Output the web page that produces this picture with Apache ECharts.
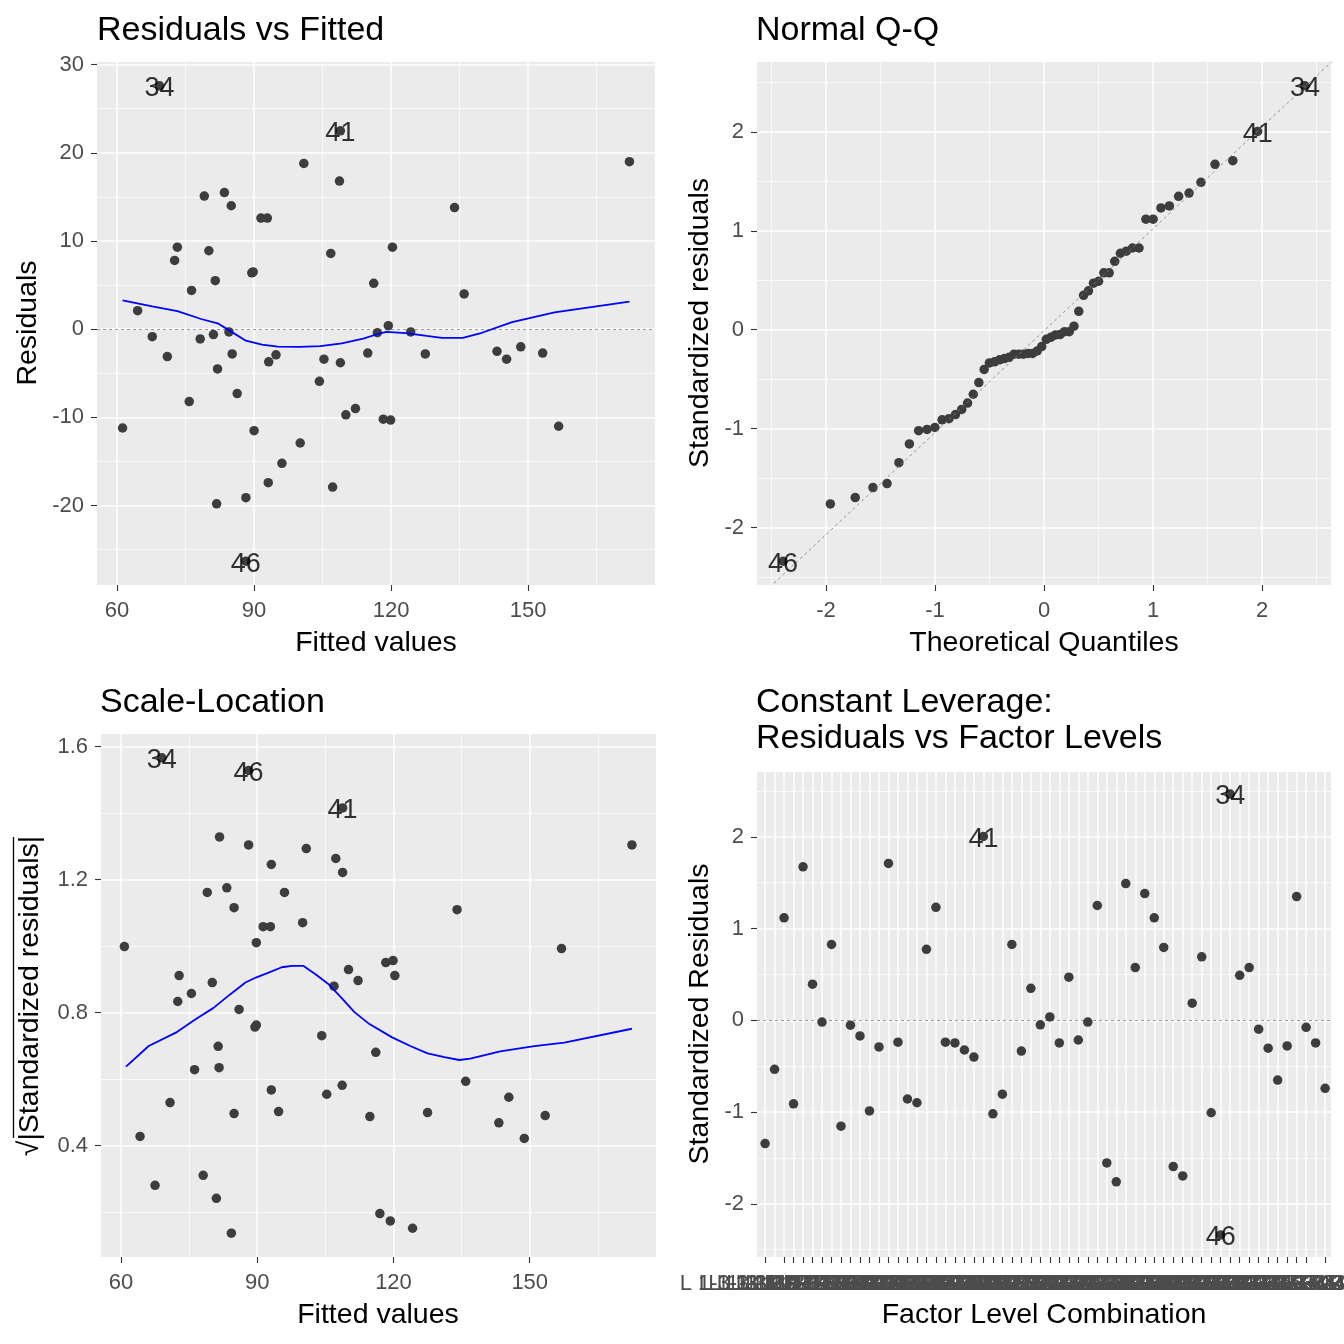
<!DOCTYPE html>
<html><head><meta charset="utf-8">
<script src="https://cdn.jsdelivr.net/npm/echarts@6/dist/echarts.min.js"></script>
<style>html,body{margin:0;padding:0;background:#fff}#c{width:1344px;height:1344px}</style>
</head><body><div id="c"></div>
<script>
// ---------- Panel 1: Residuals vs Fitted ----------
const fittedP1 = [61.2,64.5,67.7,69.3,71.0,72.6,73.2,75.8,76.3,78.2,79.1,80.1,81.1,81.5,81.8,82.0,83.5,84.5,85.0,85.2,86.3,88.2,88.2,89.5,89.8,90.0,91.5,92.9,93.1,93.2,94.8,96.1,100.1,100.9,104.3,105.3,106.8,107.2,108.7,108.9,108.9,110.1,112.2,114.9,116.2,117.0,118.3,119.4,119.9,120.3,124.3,127.5,133.9,136.0,143.2,145.3,148.4,153.2,156.7,172.2];
const residP1 = [-11.2,2.1,-0.85,27.6,-3.1,7.8,9.3,-8.2,4.4,-1.1,15.1,8.9,-0.6,5.5,-19.8,-4.5,15.5,-0.3,14.0,-2.8,-7.3,-19.1,-26.3,6.4,6.5,-11.5,12.6,12.6,-17.4,-3.7,-2.9,-15.2,-12.9,18.8,-5.9,-3.4,8.6,-17.9,16.8,-3.8,22.5,-9.7,-9.0,-2.7,5.2,-0.4,-10.2,0.4,-10.3,9.3,-0.3,-2.8,13.8,4.0,-2.5,-3.4,-2.0,-2.7,-11.0,19.0];
const smoothP1X = [61.2,67.7,73.2,78.4,82.2,85.0,88.2,91.7,95.2,99.9,104.5,109.2,113.9,117.1,119.0,123.2,127.8,131.1,135.7,139.9,146.5,155.8,172.2];
const smoothP1Y = [3.26,2.6,2.06,1.16,0.63,-0.27,-1.3,-1.74,-1.97,-2.0,-1.92,-1.6,-1.07,-0.54,-0.31,-0.45,-0.76,-0.98,-0.98,-0.4,0.8,1.92,3.13];
const labelsP1 = [[3,'34'],[22,'46'],[40,'41']];

// ---------- Panel 2: Normal Q-Q ----------
const qqTheoretical = [-2.394,-1.960,-1.732,-1.569,-1.440,-1.331,-1.235,-1.150,-1.073,-1.001,-0.935,-0.872,-0.812,-0.755,-0.701,-0.649,-0.598,-0.549,-0.501,-0.454,-0.408,-0.363,-0.319,-0.275,-0.232,-0.189,-0.147,-0.105,-0.063,-0.021,0.021,0.063,0.105,0.147,0.189,0.232,0.275,0.319,0.363,0.408,0.454,0.501,0.549,0.598,0.649,0.701,0.755,0.812,0.872,0.935,1.001,1.073,1.150,1.235,1.331,1.440,1.569,1.732,1.960,2.394];
const qqSample = [-2.340,-1.761,-1.696,-1.595,-1.555,-1.344,-1.154,-1.020,-1.008,-0.988,-0.911,-0.899,-0.858,-0.806,-0.741,-0.652,-0.534,-0.401,-0.336,-0.324,-0.304,-0.291,-0.279,-0.247,-0.247,-0.247,-0.239,-0.239,-0.215,-0.170,-0.097,-0.077,-0.053,-0.049,-0.020,-0.020,0.036,0.186,0.348,0.393,0.470,0.490,0.575,0.575,0.692,0.773,0.794,0.826,0.826,1.117,1.117,1.231,1.251,1.348,1.381,1.490,1.672,1.709,2.004,2.466];
const qqLineX = [-2.8, 2.8];
const qqLineY = [-2.894, 2.874];
const labelsP2 = [[0,'46'],[58,'41'],[59,'34']];

// ---------- Panel 3: Scale-Location ----------
const fittedP3 = [60.75,64.2,67.5,69.0,70.8,72.5,72.8,75.5,76.2,78.1,79.0,80.1,81.0,81.4,81.6,81.7,83.3,84.3,84.9,84.9,86.0,88.1,88.1,89.5,89.8,89.8,91.3,92.9,93.1,93.1,94.7,96.0,100.0,100.8,104.2,105.3,106.9,107.3,108.7,108.8,108.8,110.1,112.2,114.8,116.1,117.0,118.3,119.3,119.9,120.3,124.2,127.5,134.0,135.9,143.2,145.4,148.8,153.4,157.0,172.5];
const sqrtStdP3 = [0.998,0.427,0.280,1.566,0.529,0.833,0.911,0.857,0.628,0.310,1.161,0.890,0.241,0.698,0.634,1.328,1.175,0.136,1.115,0.496,0.809,1.304,1.528,0.756,0.762,1.010,1.058,1.058,0.567,1.245,0.502,1.161,1.070,1.293,0.730,0.554,0.879,1.263,0.581,1.221,1.415,0.929,0.896,0.487,0.680,0.195,0.950,0.173,0.956,0.911,0.151,0.499,1.109,0.593,0.468,0.545,0.421,0.490,0.992,1.304];
const smoothP3X = [61.1,66.1,72.3,76.5,80.3,84.1,87.4,89.7,92.5,95.4,97.7,100.2,102.9,105.8,108.6,111.4,114.7,119.7,123.7,127.5,131.2,134.5,136.9,143.5,151.0,157.6,172.5];
const smoothP3Y = [0.637,0.699,0.741,0.780,0.813,0.855,0.890,0.905,0.920,0.936,0.940,0.940,0.914,0.884,0.843,0.801,0.765,0.725,0.699,0.677,0.666,0.657,0.661,0.683,0.699,0.709,0.751];
const labelsP3 = [[3,'34'],[22,'46'],[40,'41']];

// ---------- Panel 4: Residuals vs Factor Levels ----------
const factorStdRes = [-1.344,-0.534,1.117,-0.911,1.672,0.393,-0.020,0.826,-1.154,-0.053,
  -0.170,-0.988,-0.291,1.709,-0.239,-0.858,-0.899,0.773,1.231,-0.239,
  -0.247,-0.324,-0.401,2.004,-1.020,-0.806,0.826,-0.336,0.348,-0.049,
  0.036,-0.247,0.470,-0.215,-0.020,1.251,-1.555,-1.761,1.490,0.575,
  1.381,1.117,0.794,-1.595,-1.696,0.186,0.692,-1.008,-2.340,2.466,
  0.490,0.575,-0.097,-0.304,-0.652,-0.279,1.348,-0.077,-0.247,-0.741];
const labelsP4 = [[23,'41'],[48,'46'],[49,'34']];
const levelA = ['1','2','3'];
const levelB = ['1','2','3','4','5'];
const levelC = ['1','2','3','4'];
const factorLabels = [];
levelA.forEach(a => levelB.forEach(b => levelC.forEach(c => {
  factorLabels.push('L ' + a + '-3-1' + b + ':R ' + c + '-0' + b + ':' + a);
})));

// ---------- tick values ----------
const ticksFitX = [60, 90, 120, 150], minorFitX = [75, 105, 135, 165];
const ticksResY = [-20, -10, 0, 10, 20, 30], minorResY = [-25, -15, -5, 5, 15, 25];
const ticksStd = [-2, -1, 0, 1, 2], minorStd = [-2.5, -1.5, -0.5, 0.5, 1.5, 2.5];
const ticksSqrtY = [0.4, 0.8, 1.2, 1.6], minorSqrtY = [0.2, 0.6, 1.0, 1.4];
const ticksFactorX = factorLabels.map((_, i) => i + 1);

// ---------- build ----------
const FONT = '"Liberation Sans", Arial, Helvetica, sans-serif';
const PT = '#3d3d3d';
const zip = (a, b) => a.map((v, i) => [v, b[i]]);

function gridHost(gi, majX, minX, majY, minY, x0, y0, extra) {
  const d = [];
  minX.forEach(v => d.push({xAxis: v, lineStyle: {width: 0.75, color: '#fff', type: 'solid'}}));
  minY.forEach(v => d.push({yAxis: v, lineStyle: {width: 0.75, color: '#fff', type: 'solid'}}));
  majX.forEach(v => d.push({xAxis: v, lineStyle: {width: 1.5, color: '#fff', type: 'solid'}}));
  majY.forEach(v => d.push({yAxis: v, lineStyle: {width: 1.5, color: '#fff', type: 'solid'}}));
  const s = [{
    type: 'line', xAxisIndex: gi, yAxisIndex: gi, data: [[x0, y0]], showSymbol: false, symbol: 'none',
    lineStyle: {opacity: 0}, silent: true, z: 1,
    markLine: {silent: true, symbol: 'none', z: 1, animation: false, label: {show: false},
      emphasis: {disabled: true}, data: d}
  }];
  if (extra) {
    s.push({
      type: 'line', xAxisIndex: gi, yAxisIndex: gi, data: [[x0, y0]], showSymbol: false, symbol: 'none',
      lineStyle: {opacity: 0}, silent: true, z: 2,
      markLine: {silent: true, symbol: 'none', z: 2, animation: false, label: {show: false},
        emphasis: {disabled: true},
        data: [{yAxis: 0, lineStyle: {color: '#7F7F7F', width: 0.8, type: [3, 3]}}]}
    });
  }
  return s;
}
function points(gi, data) {
  return {type: 'scatter', xAxisIndex: gi, yAxisIndex: gi, data, symbol: 'circle', symbolSize: 9.5,
    itemStyle: {color: PT, opacity: 1}, silent: true, z: 3};
}
function smooth(gi, data, color, dash) {
  return {type: 'line', xAxisIndex: gi, yAxisIndex: gi, data, showSymbol: false, symbol: 'none',
    clip: true, lineStyle: {color, width: dash ? 0.8 : 1.8, type: dash ? [3, 3] : 'solid'}, silent: true, z: 4};
}
function labels(gi, xs, ys, lbl) {
  return {type: 'scatter', xAxisIndex: gi, yAxisIndex: gi, symbol: 'circle', symbolSize: 1,
    itemStyle: {color: 'rgba(0,0,0,0)'}, silent: true, z: 6,
    label: {show: true, position: 'inside', offset: [0, 3], formatter: '{b}', color: '#000', fontSize: 27, fontFamily: FONT},
    data: lbl.map(([i, t]) => ({name: t, value: [xs[i], ys[i]]}))};
}
function axis(gi, min, max, ticks, fmt, margin) {
  return {type: 'value', gridIndex: gi, min, max, scale: true,
    axisLine: {show: false, onZero: false},
    axisTick: {show: true, customValues: ticks, length: 6, lineStyle: {color: '#333333', width: 1.1}},
    axisLabel: {show: true, customValues: ticks, color: '#4D4D4D', fontSize: 22, fontFamily: FONT, margin: margin || 13,
      formatter: fmt || (v => String(v)), hideOverlap: false, showMinLabel: true, showMaxLabel: true},
    splitLine: {show: false}, minorTick: {show: false}, minorSplitLine: {show: false}};
}
function gtext(text, x, y, size, rot, align) {
  return {type: 'text', x, y, rotation: rot || 0, silent: true, z: 10,
    style: {text, fill: '#000', font: size + 'px ' + FONT, textAlign: align || 'center', align: align || 'center',
      textVerticalAlign: 'middle', verticalAlign: 'middle'}};
}

const grids = [
  {left: 97, top: 62, width: 558, height: 523},
  {left: 757, top: 62, width: 574, height: 523},
  {left: 101, top: 734, width: 555, height: 523},
  {left: 757, top: 772, width: 574, height: 485}
].map(g => Object.assign(g, {show: true, backgroundColor: '#EBEBEB', borderWidth: 0, containLabel: false, outerBoundsMode: 'none'}));

const option = {
  animation: false,
  backgroundColor: '#ffffff',
  textStyle: {fontFamily: FONT},
  grid: grids,
  xAxis: [
    axis(0, 55.6, 177.8, ticksFitX, null, 15),
    axis(1, -2.633, 2.633, ticksStd, null, 15),
    axis(2, 55.6, 177.8, ticksFitX, null, 15),
    axis(3, 0.15, 60.62, ticksFactorX, v => factorLabels[Math.round(v) - 1], 16)
  ],
  yAxis: [
    axis(0, -29.0, 30.3, ticksResY),
    axis(1, -2.58, 2.706, ticksStd),
    axis(2, 0.0645, 1.6375, ticksSqrtY),
    axis(3, -2.58, 2.706, ticksStd)
  ],
  series: [].concat(
    gridHost(0, ticksFitX, minorFitX, ticksResY, minorResY, 60, 0, true),
    [points(0, zip(fittedP1, residP1)), smooth(0, zip(smoothP1X, smoothP1Y), '#0000FF'), labels(0, fittedP1, residP1, labelsP1)],
    gridHost(1, ticksStd, minorStd, ticksStd, minorStd, 0, 0, false),
    [smooth(1, zip(qqLineX, qqLineY), '#7F7F7F', true), points(1, zip(qqTheoretical, qqSample)), labels(1, qqTheoretical, qqSample, labelsP2)],
    gridHost(2, ticksFitX, minorFitX, ticksSqrtY, minorSqrtY, 60, 0.4, false),
    [points(2, zip(fittedP3, sqrtStdP3)), smooth(2, zip(smoothP3X, smoothP3Y), '#0000FF'), labels(2, fittedP3, sqrtStdP3, labelsP3)],
    gridHost(3, ticksFactorX, [], ticksStd, minorStd, 1, 0, true),
    [points(3, zip(ticksFactorX, factorStdRes)), labels(3, ticksFactorX, factorStdRes, labelsP4)]
  ),
  graphic: [
    gtext('Residuals vs Fitted', 97, 31, 34, 0, 'left'),
    gtext('Normal Q-Q', 756, 31, 34, 0, 'left'),
    gtext('Scale-Location', 100, 703, 34, 0, 'left'),
    gtext('Constant Leverage:', 756, 703, 34, 0, 'left'),
    gtext('Residuals vs Factor Levels', 756, 739, 34, 0, 'left'),
    gtext('Fitted values', 376, 643, 28.5),
    gtext('Theoretical Quantiles', 1044, 643, 28.5),
    gtext('Fitted values', 378, 1315, 28.5),
    gtext('Factor Level Combination', 1044, 1315, 28.5),
    gtext('Residuals', 28, 323, 28.5, Math.PI / 2),
    gtext('Standardized residuals', 700, 323, 28.5, Math.PI / 2),
    gtext('Standardized Residuals', 700, 1014, 28.5, Math.PI / 2),
    gtext('\u221A|Standardized residuals|', 30, 996, 28.5, Math.PI / 2),
    {type: 'line', silent: true, z: 10, shape: {x1: 13.5, y1: 837, x2: 13.5, y2: 1138},
      style: {stroke: '#000', lineWidth: 1.3}}
  ]
};
const chart = echarts.init(document.getElementById('c'), null, {renderer: 'canvas'});
chart.setOption(option);
</script></body></html>
